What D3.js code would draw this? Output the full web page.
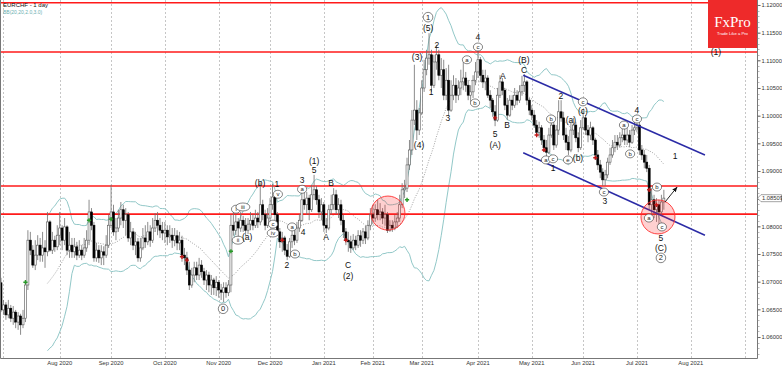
<!DOCTYPE html>
<meta charset="utf-8">
<style>
    body { margin: 0; background: #fff; font-family: "Liberation Sans", Arial, sans-serif; }
    svg { display: block; }
    .axis text { font-size: 5.8px; fill: #333; }
    .wave { font-size: 8.5px; fill: #111; text-anchor: middle; dominant-baseline: central; }
    .cwave { font-size: 6px; fill: #222; text-anchor: middle; dominant-baseline: central; }
</style>
<body>
<script src="https://cdn.jsdelivr.net/npm/d3@7"></script>
<script>
// EURCHF daily bars, first bar 30 Jun 2020 (open of the first bar, then closes / highs / lows)
var firstOpen = 1.0698;
var closes = [
    1.0649, 1.0658, 1.0640, 1.0652, 1.0634, 1.0645, 1.0627, 1.0638, 1.0622, 1.0634,
    1.0694, 1.0775, 1.0757, 1.0730, 1.0748, 1.0766, 1.0748, 1.0761, 1.0754, 1.0808,
    1.0757, 1.0775, 1.0763, 1.0784, 1.0797, 1.0775, 1.0799, 1.0757, 1.0766, 1.0754,
    1.0763, 1.0748, 1.0757, 1.0748, 1.0761, 1.0775, 1.0826, 1.0802, 1.0743, 1.0757,
    1.0743, 1.0754, 1.0748, 1.0766, 1.0802, 1.0826, 1.0790, 1.0797, 1.0815, 1.0830,
    1.0811, 1.0821, 1.0779, 1.0790, 1.0766, 1.0772, 1.0743, 1.0761, 1.0779, 1.0772,
    1.0790, 1.0775, 1.0797, 1.0811, 1.0802, 1.0793, 1.0788, 1.0793, 1.0781, 1.0784,
    1.0775, 1.0783, 1.0770, 1.0775, 1.0748, 1.0743, 1.0721, 1.0694, 1.0712, 1.0725,
    1.0712, 1.0730, 1.0718, 1.0703, 1.0712, 1.0694, 1.0703, 1.0689, 1.0699, 1.0685,
    1.0681, 1.0689, 1.0680, 1.0694, 1.0802, 1.0793, 1.0808, 1.0797, 1.0811, 1.0802,
    1.0793, 1.0804, 1.0811, 1.0802, 1.0815, 1.0808, 1.0839, 1.0821, 1.0802, 1.0815,
    1.0839, 1.0853, 1.0821, 1.0790, 1.0772, 1.0779, 1.0757, 1.0746, 1.0772, 1.0784,
    1.0775, 1.0797, 1.0811, 1.0848, 1.0839, 1.0851, 1.0830, 1.0857, 1.0866, 1.0848,
    1.0826, 1.0839, 1.0802, 1.0797, 1.0830, 1.0839, 1.0857, 1.0830, 1.0839, 1.0811,
    1.0790, 1.0775, 1.0772, 1.0761, 1.0775, 1.0766, 1.0783, 1.0775, 1.0790, 1.0779,
    1.0802, 1.0821, 1.0815, 1.0830, 1.0821, 1.0826, 1.0815, 1.0821, 1.0793, 1.0802,
    1.0797, 1.0808, 1.0815, 1.0839, 1.0866, 1.0869, 1.0911, 1.0938, 1.0992, 1.1010,
    1.0974, 1.1005, 1.1050, 1.1083, 1.1104, 1.1110, 1.1055, 1.1097, 1.1110, 1.1073,
    1.1083, 1.1037, 1.1064, 1.1010, 1.1037, 1.1055, 1.1037, 1.1050, 1.1061, 1.1068,
    1.1055, 1.1037, 1.1043, 1.1064, 1.1079, 1.1101, 1.1073, 1.1061, 1.1068, 1.1037,
    1.1028, 1.1007, 1.0992, 1.1037, 1.1061, 1.1046, 1.1019, 1.1001, 1.1028, 1.1019,
    1.1037, 1.1028, 1.1043, 1.1055, 1.1061, 1.1028, 1.1010, 1.1001, 1.0983, 1.0970,
    1.0978, 1.0956, 1.0942, 1.0934, 1.0965, 1.0983, 1.0947, 1.0974, 1.1007, 1.0996,
    1.0965, 1.0952, 1.0938, 1.0974, 1.0983, 1.0960, 1.0942, 1.0978, 1.0996, 1.0974,
    1.0965, 1.0978, 1.0956, 1.0929, 1.0911, 1.0898, 1.0884, 1.0893, 1.0916, 1.0929,
    1.0942, 1.0952, 1.0947, 1.0960, 1.0965, 1.0956, 1.0965, 1.0952, 1.0974, 1.0978,
    1.0983, 1.0938, 1.0929, 1.0916, 1.0905, 1.0839, 1.0848, 1.0830, 1.0839, 1.0826,
    1.0844, 1.0851
];
var highs = [
    1.0707, 1.0667, 1.0663, 1.0667, 1.0658, 1.0656, 1.0649, 1.0645, 1.0642, 1.0649,
    1.0703, 1.0793, 1.0790, 1.0766, 1.0775, 1.0784, 1.0779, 1.0790, 1.0775, 1.0826,
    1.0811, 1.0790, 1.0783, 1.0802, 1.0826, 1.0802, 1.0815, 1.0802, 1.0790, 1.0779,
    1.0779, 1.0772, 1.0775, 1.0766, 1.0779, 1.0793, 1.0848, 1.0833, 1.0808, 1.0770,
    1.0766, 1.0766, 1.0764, 1.0784, 1.0821, 1.0875, 1.0839, 1.0815, 1.0830, 1.0844,
    1.0839, 1.0833, 1.0826, 1.0808, 1.0797, 1.0790, 1.0779, 1.0779, 1.0797, 1.0802,
    1.0808, 1.0802, 1.0815, 1.0824, 1.0826, 1.0815, 1.0808, 1.0808, 1.0802, 1.0802,
    1.0797, 1.0797, 1.0793, 1.0790, 1.0783, 1.0761, 1.0754, 1.0736, 1.0725, 1.0736,
    1.0736, 1.0743, 1.0739, 1.0725, 1.0721, 1.0718, 1.0712, 1.0707, 1.0710, 1.0703,
    1.0696, 1.0699, 1.0699, 1.0703, 1.0821, 1.0826, 1.0821, 1.0815, 1.0826, 1.0819,
    1.0815, 1.0815, 1.0826, 1.0822, 1.0830, 1.0826, 1.0878, 1.0848, 1.0830, 1.0833,
    1.0851, 1.0877, 1.0857, 1.0826, 1.0797, 1.0790, 1.0783, 1.0768, 1.0779, 1.0797,
    1.0802, 1.0808, 1.0822, 1.0866, 1.0869, 1.0862, 1.0857, 1.0875, 1.0893, 1.0873,
    1.0857, 1.0851, 1.0844, 1.0815, 1.0839, 1.0857, 1.0869, 1.0866, 1.0851, 1.0848,
    1.0821, 1.0797, 1.0790, 1.0783, 1.0786, 1.0783, 1.0793, 1.0793, 1.0797, 1.0801,
    1.0811, 1.0833, 1.0839, 1.0840, 1.0848, 1.0842, 1.0833, 1.0839, 1.0826, 1.0811,
    1.0811, 1.0821, 1.0826, 1.0857, 1.0878, 1.0884, 1.0924, 1.0956, 1.1010, 1.1092,
    1.1028, 1.1014, 1.1064, 1.1101, 1.1119, 1.1149, 1.1119, 1.1110, 1.1128, 1.1119,
    1.1104, 1.1101, 1.1086, 1.1092, 1.1064, 1.1073, 1.1068, 1.1064, 1.1083, 1.1097,
    1.1079, 1.1064, 1.1055, 1.1073, 1.1097, 1.1119, 1.1106, 1.1083, 1.1083, 1.1073,
    1.1046, 1.1032, 1.1019, 1.1050, 1.1073, 1.1068, 1.1050, 1.1032, 1.1037, 1.1037,
    1.1050, 1.1046, 1.1055, 1.1072, 1.1075, 1.1064, 1.1032, 1.1019, 1.1010, 1.0992,
    1.0989, 1.0983, 1.0965, 1.0956, 1.0978, 1.0992, 1.0989, 1.0983, 1.1028, 1.1028,
    1.1007, 1.0978, 1.0963, 1.0989, 1.0996, 1.0989, 1.0970, 1.0992, 1.1010, 1.1001,
    1.0983, 1.0989, 1.0981, 1.0960, 1.0938, 1.0920, 1.0905, 1.0902, 1.0924, 1.0942,
    1.0956, 1.0965, 1.0965, 1.0970, 1.0978, 1.0983, 1.0978, 1.0974, 1.0983, 1.0992,
    1.0992, 1.0989, 1.0947, 1.0938, 1.0929, 1.0911, 1.0869, 1.0857, 1.0851, 1.0848,
    1.0857, 1.0866
];
var lows = [
    1.0645, 1.0640, 1.0631, 1.0634, 1.0627, 1.0622, 1.0616, 1.0613, 1.0604, 1.0616,
    1.0627, 1.0685, 1.0748, 1.0725, 1.0721, 1.0739, 1.0736, 1.0736, 1.0725, 1.0746,
    1.0754, 1.0750, 1.0754, 1.0757, 1.0766, 1.0757, 1.0766, 1.0748, 1.0743, 1.0743,
    1.0743, 1.0739, 1.0743, 1.0739, 1.0743, 1.0754, 1.0766, 1.0793, 1.0736, 1.0736,
    1.0734, 1.0730, 1.0730, 1.0743, 1.0761, 1.0797, 1.0783, 1.0775, 1.0790, 1.0802,
    1.0797, 1.0784, 1.0772, 1.0766, 1.0757, 1.0748, 1.0736, 1.0736, 1.0757, 1.0761,
    1.0766, 1.0763, 1.0770, 1.0790, 1.0784, 1.0779, 1.0775, 1.0770, 1.0766, 1.0770,
    1.0761, 1.0764, 1.0757, 1.0757, 1.0736, 1.0730, 1.0712, 1.0685, 1.0689, 1.0699,
    1.0703, 1.0703, 1.0707, 1.0694, 1.0685, 1.0681, 1.0676, 1.0676, 1.0674, 1.0671,
    1.0667, 1.0663, 1.0671, 1.0674, 1.0681, 1.0783, 1.0784, 1.0781, 1.0790, 1.0790,
    1.0783, 1.0786, 1.0793, 1.0793, 1.0797, 1.0797, 1.0802, 1.0811, 1.0793, 1.0797,
    1.0808, 1.0830, 1.0808, 1.0783, 1.0761, 1.0754, 1.0748, 1.0739, 1.0743, 1.0761,
    1.0766, 1.0770, 1.0790, 1.0808, 1.0830, 1.0821, 1.0811, 1.0826, 1.0848, 1.0839,
    1.0815, 1.0811, 1.0790, 1.0788, 1.0793, 1.0821, 1.0830, 1.0822, 1.0815, 1.0802,
    1.0779, 1.0766, 1.0754, 1.0752, 1.0757, 1.0757, 1.0761, 1.0763, 1.0768, 1.0768,
    1.0775, 1.0793, 1.0804, 1.0808, 1.0811, 1.0811, 1.0804, 1.0801, 1.0788, 1.0790,
    1.0790, 1.0793, 1.0797, 1.0808, 1.0833, 1.0851, 1.0862, 1.0902, 1.0929, 1.0983,
    1.0956, 1.0965, 1.1001, 1.1043, 1.1073, 1.1092, 1.1043, 1.1050, 1.1083, 1.1064,
    1.1050, 1.1028, 1.1028, 1.1001, 1.1007, 1.1028, 1.1023, 1.1028, 1.1037, 1.1046,
    1.1043, 1.1028, 1.1025, 1.1032, 1.1055, 1.1068, 1.1061, 1.1050, 1.1046, 1.1032,
    1.1014, 1.0998, 1.0981, 1.0989, 1.1032, 1.1037, 1.1010, 1.0992, 1.0998, 1.1010,
    1.1014, 1.1019, 1.1023, 1.1036, 1.1043, 1.1019, 1.1001, 1.0992, 1.0978, 1.0963,
    1.0960, 1.0947, 1.0934, 1.0927, 1.0931, 1.0960, 1.0938, 1.0942, 1.0965, 1.0989,
    1.0956, 1.0938, 1.0929, 1.0934, 1.0965, 1.0952, 1.0934, 1.0938, 1.0974, 1.0965,
    1.0952, 1.0956, 1.0947, 1.0920, 1.0902, 1.0887, 1.0873, 1.0873, 1.0887, 1.0911,
    1.0924, 1.0934, 1.0938, 1.0942, 1.0952, 1.0947, 1.0947, 1.0943, 1.0949, 1.0965,
    1.0970, 1.0929, 1.0920, 1.0905, 1.0898, 1.0830, 1.0821, 1.0815, 1.0808, 1.0802,
    1.0821, 1.0830
];

// horizontal support / resistance levels
var levels = [1.1204, 1.1115, 1.0873, 1.0822];
// descending channel: [bar, price] at both ends
var channelTop = [[213.5, 1.1073], [287.8, 1.0929]];
var channelBottom = [[213.5, 1.0933], [287.8, 1.0784]];
// highlighted zones (bar, price)
var zones = [[158.2, 1.0824], [268.6, 1.0817]];
// projection arrow
var arrowPts = [[271.5, 1.0844], [276.4, 1.0871]];
// signal marks
var buyMarks = [[10, 1.0699], [36, 1.0811], [45, 1.0813], [94, 1.0755], [166, 1.0848]];
var sellMarks = [[74, 1.0745], [76, 1.0739], [115, 1.0775], [141, 1.0775], [202, 1.0996],
    [219, 1.0965], [222, 1.0938], [243, 1.0924], [265, 1.0866], [268, 1.0839]];
var lastPrice = 1.08509;
var priceTicks = d3.range(1.060, 1.1201, 0.005);

// wave count: [bar, price, text, circled]
var waveLabels = [
    [292.3, 1.1115, "(1)", 0],
    [174.6, 1.1178, "1", 1], [174.6, 1.1158, "(5)", 0],
    [170.1, 1.1106, "(3)", 0], [178.2, 1.1128, "2", 0], [175.8, 1.1043, "1", 0],
    [182.7, 1.0996, "3", 0], [170.9, 1.0947, "(4)", 0],
    [195, 1.1142, "4", 0], [195, 1.1124, "c", 1], [190.5, 1.1101, "a", 1], [193.8, 1.1023, "b", 1],
    [202, 1.0967, "5", 0], [202, 1.0947, "(A)", 0], [205.2, 1.1072, "A", 0], [206.9, 1.0983, "B", 0],
    [213.8, 1.1101, "(B)", 0], [213.8, 1.1083, "C", 0],
    [224.9, 1.0994, "b", 1], [222.8, 1.0920, "a", 1], [225.7, 1.0922, "c", 1], [225.7, 1.0905, "1", 0],
    [228.9, 1.1036, "2", 0], [233, 1.0992, "(a)", 0], [231.8, 1.0920, "e", 1], [235.9, 1.0924, "(b)", 0],
    [237.9, 1.1025, "c", 1], [237.9, 1.1008, "(c)", 0],
    [246.5, 1.0862, "c", 1], [246.9, 1.0846, "3", 0],
    [254.7, 1.0983, "a", 1], [257.2, 1.0931, "b", 1], [260, 1.1010, "4", 0], [260, 1.0994, "c", 1],
    [275.6, 1.0927, "1", 0],
    [268.2, 1.0871, "b", 1], [264.9, 1.0815, "a", 1], [270.2, 1.0799, "c", 1],
    [269.8, 1.0779, "5", 0], [269.8, 1.0761, "(C)", 0], [269.8, 1.0743, "2", 1],
    [128, 1.0918, "(1)", 0], [128, 1.0902, "5", 0], [123.1, 1.0884, "3", 0], [123.1, 1.0867, "a", 1],
    [123.5, 1.0790, "4", 0], [119, 1.0799, "a", 1], [120.2, 1.0750, "b", 1], [116.9, 1.0730, "2", 0],
    [132.9, 1.0781, "A", 0], [134.9, 1.0878, "B", 0], [141.9, 1.0730, "C", 0], [141.9, 1.0710, "(2)", 0],
    [96.1, 1.0831, "i", 1], [98.9, 1.0835, "iii", 1], [96.9, 1.0775, "ii", 1], [100.6, 1.0781, "(a)", 0],
    [105.9, 1.0878, "(b)", 0], [112.8, 1.0877, "1", 0], [113.2, 1.0858, "v", 1],
    [111.2, 1.0804, "c", 1], [111.2, 1.0788, "iv", 1],
    [90.8, 1.0651, "0", 1]
];

var W = 782, H = 366, plotR = 757, plotB = 358;

// trading days (weekdays, no bars on 25 Dec / 1 Jan)
var holidays = ["2020-12-25", "2021-01-01"];
var fmtKey = d3.timeFormat("%Y-%m-%d");
var dates = [];
var d = new Date(2020, 5, 30);
while (dates.length < 312) {
    var wd = d.getDay();
    if (wd > 0 && wd < 6 && holidays.indexOf(fmtKey(d)) < 0) dates.push(new Date(d));
    d.setDate(d.getDate() + 1);
}

var bars = closes.map(function (c, i) {
    var o = i === 0 ? firstOpen : closes[i - 1];
    return { i: i, o: o, c: c, h: Math.max(highs[i], o, c), l: Math.min(lows[i], o, c) };
});

var x = d3.scaleLinear().domain([0, 309]).range([1, 756.8]);
var y = d3.scaleLinear().domain([1.05621, 1.1209]).range([plotB, 0]);

var svg = d3.select("body").append("svg")
    .attr("width", W)
    .attr("height", H);

svg.append("defs").append("clipPath").attr("id", "plot")
    .append("rect").attr("x", 0).attr("y", 0).attr("width", plotR).attr("height", plotB);
svg.select("defs").append("marker")
    .attr("id", "head").attr("viewBox", "0 0 10 10").attr("refX", 9).attr("refY", 5)
    .attr("markerWidth", 6).attr("markerHeight", 6).attr("orient", "auto")
    .append("path").attr("d", "M0,1L10,5L0,9Z").attr("fill", "#111");

var plot = svg.append("g").attr("clip-path", "url(#plot)");

// month grid lines
var monthStarts = d3.range(1, dates.length).filter(function (i) {
    return dates[i].getMonth() !== dates[i - 1].getMonth();
});
plot.append("g").selectAll("line").data(monthStarts).enter().append("line")
    .attr("x1", function (i) { return Math.round(x(i)) + 0.5; })
    .attr("x2", function (i) { return Math.round(x(i)) + 0.5; })
    .attr("y1", 0).attr("y2", plotB)
    .attr("stroke", "#b8b8b8").attr("stroke-width", 0.8).attr("stroke-dasharray", "2,2");

// Bollinger bands (20, 2)
var bb = [];
for (var i = 19; i < closes.length; i++) {
    var win = closes.slice(i - 19, i + 1);
    var m = d3.mean(win);
    var sd = Math.sqrt(d3.mean(win, function (v) { return (v - m) * (v - m); }));
    bb.push({ i: i, m: m, u: m + 2 * sd, l: m - 2 * sd });
}
var bbLine = function (key) {
    return d3.line().x(function (b) { return x(b.i); }).y(function (b) { return y(b[key]); });
};
plot.append("path").datum(bb).attr("d", bbLine("u"))
    .attr("fill", "none").attr("stroke", "#92c8c8").attr("stroke-width", 1);
plot.append("path").datum(bb).attr("d", bbLine("l"))
    .attr("fill", "none").attr("stroke", "#92c8c8").attr("stroke-width", 1);
plot.append("path").datum(bb).attr("d", bbLine("m"))
    .attr("fill", "none").attr("stroke", "#8a8a8a").attr("stroke-width", 0.8).attr("stroke-dasharray", "1,1.5");

// levels
plot.append("g").selectAll("line").data(levels).enter().append("line")
    .attr("x1", 0).attr("x2", plotR)
    .attr("y1", function (p) { return y(p); }).attr("y2", function (p) { return y(p); })
    .attr("stroke", "#ff1a1a").attr("stroke-width", 1.6);

// candles
var candle = plot.append("g").selectAll("g").data(bars).enter().append("g");
candle.append("line")
    .attr("x1", function (b) { return x(b.i); }).attr("x2", function (b) { return x(b.i); })
    .attr("y1", function (b) { return y(b.h); }).attr("y2", function (b) { return y(b.l); })
    .attr("stroke", "#6e6e6e").attr("stroke-width", 0.8);
candle.append("rect")
    .attr("x", function (b) { return x(b.i) - 1; })
    .attr("width", 2)
    .attr("y", function (b) { return y(Math.max(b.o, b.c)); })
    .attr("height", function (b) { return Math.max(0.8, Math.abs(y(b.o) - y(b.c))); })
    .attr("fill", function (b) { return b.c >= b.o ? "#fff" : "#000"; })
    .attr("stroke", function (b) { return b.c >= b.o ? "#555" : "#000"; })
    .attr("stroke-width", 0.6);

// signal marks
plot.append("g").selectAll("path").data(buyMarks).enter().append("path")
    .attr("d", d3.symbol().type(d3.symbolCross).size(10))
    .attr("transform", function (p) { return "translate(" + x(p[0]) + "," + y(p[1]) + ")"; })
    .attr("fill", "#2a9a2a");
plot.append("g").selectAll("path").data(sellMarks).enter().append("path")
    .attr("d", d3.symbol().type(d3.symbolCross).size(10))
    .attr("transform", function (p) { return "translate(" + x(p[0]) + "," + y(p[1]) + ")"; })
    .attr("fill", "#c01818");

// channel
var seg = d3.line().x(function (p) { return x(p[0]); }).y(function (p) { return y(p[1]); });
[channelTop, channelBottom].forEach(function (c) {
    plot.append("path").attr("d", seg(c))
        .attr("fill", "none").attr("stroke", "#2b2ba6").attr("stroke-width", 1.5);
});

// zones
plot.append("g").selectAll("circle").data(zones).enter().append("circle")
    .attr("cx", function (p) { return x(p[0]); }).attr("cy", function (p) { return y(p[1]); })
    .attr("r", 17)
    .attr("fill", "rgba(255,40,40,0.22)").attr("stroke", "#ff3030").attr("stroke-width", 0.9);

// arrow
plot.append("path").attr("d", seg(arrowPts))
    .attr("stroke", "#111").attr("stroke-width", 0.9).attr("marker-end", "url(#head)");

// wave labels
var wl = plot.append("g").selectAll("g").data(waveLabels).enter().append("g")
    .attr("transform", function (w) { return "translate(" + x(w[0]) + "," + y(w[1]) + ")"; });
wl.filter(function (w) { return w[3]; }).append("ellipse")
    .attr("rx", function (w) { return /\d/.test(w[2]) ? 4.8 : 3.4 + w[2].length * 1.2; })
    .attr("ry", function (w) { return /\d/.test(w[2]) ? 4.8 : 4; })
    .attr("fill", "#fff").attr("stroke", "#333").attr("stroke-width", 0.6);
wl.append("text")
    .attr("class", function (w) { return w[3] ? "cwave" : "wave"; })
    .style("font-size", function (w) { return w[3] && /\d/.test(w[2]) ? "7.5px" : null; })
    .text(function (w) { return w[2]; });

// frame
svg.append("path").attr("d", "M0.5,0V" + (plotB + 0.5) + "H" + (plotR + 0.5) + "V0")
    .attr("fill", "none").attr("stroke", "#777").attr("stroke-width", 1);

// right price axis
var ax = svg.append("g").attr("class", "axis").attr("transform", "translate(" + (plotR + 0.5) + ",0)")
    .call(d3.axisRight(y).tickValues(priceTicks).tickSize(3).tickFormat(d3.format(".5f")));
ax.select(".domain").remove();
ax.selectAll("line").attr("stroke", "#555");
ax.selectAll("text").attr("x", 4);
svg.append("g").selectAll("line").data(d3.range(1.057, 1.1209, 0.001)).enter().append("line")
    .attr("x1", plotR + 0.5).attr("x2", plotR + 2.5)
    .attr("y1", function (p) { return Math.round(y(p)) + 0.5; })
    .attr("y2", function (p) { return Math.round(y(p)) + 0.5; })
    .attr("stroke", "#888").attr("stroke-width", 0.6);

// last price tag
var ly = y(lastPrice);
svg.append("path")
    .attr("d", "M" + (plotR + 0.5) + "," + ly + "L" + (plotR + 4) + "," + (ly - 3.5) + "H781.5V" + (ly + 3.5) + "H" + (plotR + 4) + "Z")
    .attr("fill", "#fff").attr("stroke", "#666").attr("stroke-width", 0.6);
svg.append("text").attr("class", "axis").attr("x", plotR + 5).attr("y", ly + 2)
    .style("font-size", "5.8px").attr("fill", "#333").text(d3.format(".5f")(lastPrice));

// month labels
var fmtMonth = d3.timeFormat("%b %Y");
svg.append("g").attr("class", "axis").selectAll("text")
    .data(monthStarts.filter(function (i) { return x(i) > 30 && x(i) < 720; }))
    .enter().append("text")
    .attr("x", function (i) { return x(i); }).attr("y", 365)
    .attr("text-anchor", "middle")
    .text(function (i) { return fmtMonth(dates[i]); });

// header
svg.append("text").attr("x", 3).attr("y", 7).style("font-size", "6px").attr("fill", "#111")
    .text("EURCHF - 1 day");
svg.append("text").attr("x", 3).attr("y", 14).style("font-size", "5px").attr("fill", "#6aaeb0")
    .text("BB(20,20,2.0,3.0)");

// logo
svg.append("rect").attr("x", 708).attr("y", 0).attr("width", 49).attr("height", 48).attr("fill", "#ee2a2a");
svg.append("text").attr("x", 732.5).attr("y", 27).attr("text-anchor", "middle")
    .style("font-family", "'Liberation Serif', 'DejaVu Serif', serif").style("font-size", "15px")
    .attr("fill", "#fff").text("FxPro");
svg.append("text").attr("x", 732.5).attr("y", 35).attr("text-anchor", "middle")
    .style("font-size", "4.2px").attr("fill", "#fff").text("Trade Like a Pro");
</script>
</body>
